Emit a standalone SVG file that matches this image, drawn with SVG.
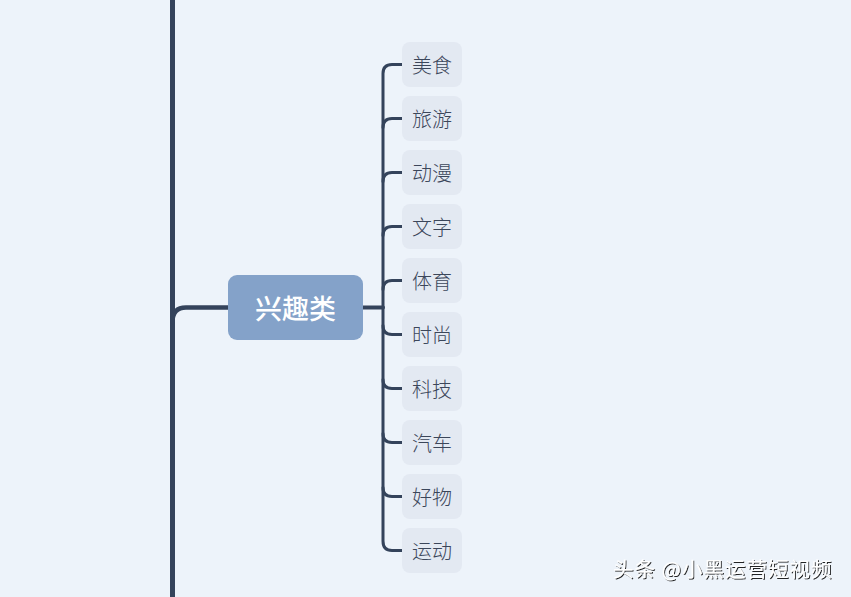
<svg xmlns="http://www.w3.org/2000/svg" width="851" height="597" viewBox="0 0 851 597">
<defs>
<style>
.conn{fill:none;stroke:#34435B;stroke-linecap:round;stroke-linejoin:round}
.child rect{fill:#E3E9F2}
.child text{font-family:"Noto Sans CJK SC","Noto Sans",sans-serif;font-size:20px;font-weight:300;fill:#3B465A;text-anchor:middle;dominant-baseline:central}
.main text{font-family:"Noto Sans CJK SC","Noto Sans",sans-serif;font-size:27px;font-weight:500;fill:#FFFFFF;text-anchor:middle;dominant-baseline:central}
</style>
<filter id="sh" x="-10%" y="-30%" width="120%" height="160%">
<feDropShadow dx="1" dy="1" stdDeviation="0.6" flood-color="#000" flood-opacity="0.85"/>
</filter>
</defs>
<rect width="851" height="597" fill="#EDF3FA"/>
<g id="connectors">
<line class="conn" x1="172.5" y1="-5" x2="172.5" y2="602" stroke-width="5"/>
<path class="conn" d="M172.5 322 Q172.5 307.5 186 307.5 L230 307.5" stroke-width="4.5"/>
<path class="conn" d="M360 307.5 L383 307.5" stroke-width="4"/>
<path class="conn" stroke-width="3" d="M402 64.5 L392 64.5 Q383 64.5 383 73.5 L383 541 Q383 550.5 392 550.5 L402 550.5"/>
<path class="conn" stroke-width="3" d="M383 127.5 Q383 118.5 392 118.5 L402 118.5"/>
<path class="conn" stroke-width="3" d="M383 181.5 Q383 172.5 392 172.5 L402 172.5"/>
<path class="conn" stroke-width="3" d="M383 235.5 Q383 226.5 392 226.5 L402 226.5"/>
<path class="conn" stroke-width="3" d="M383 289.5 Q383 280.5 392 280.5 L402 280.5"/>
<path class="conn" stroke-width="3" d="M383 325.5 Q383 334.5 392 334.5 L402 334.5"/>
<path class="conn" stroke-width="3" d="M383 379.5 Q383 388.5 392 388.5 L402 388.5"/>
<path class="conn" stroke-width="3" d="M383 433.5 Q383 442.5 392 442.5 L402 442.5"/>
<path class="conn" stroke-width="3" d="M383 487.5 Q383 496.5 392 496.5 L402 496.5"/>
</g>
<g id="node-main" class="main">
<rect x="228" y="275" width="135" height="65" rx="9" fill="#84A2C9"/>
<text x="295.5" y="307.5">兴趣类</text>
</g>
<g id="node-1" class="child"><rect x="402" y="42" width="60" height="45" rx="8"/><text x="432" y="64.5">美食</text></g>
<g id="node-2" class="child"><rect x="402" y="96" width="60" height="45" rx="8"/><text x="432" y="118.5">旅游</text></g>
<g id="node-3" class="child"><rect x="402" y="150" width="60" height="45" rx="8"/><text x="432" y="172.5">动漫</text></g>
<g id="node-4" class="child"><rect x="402" y="204" width="60" height="45" rx="8"/><text x="432" y="226.5">文字</text></g>
<g id="node-5" class="child"><rect x="402" y="258" width="60" height="45" rx="8"/><text x="432" y="280.5">体育</text></g>
<g id="node-6" class="child"><rect x="402" y="312" width="60" height="45" rx="8"/><text x="432" y="334.5">时尚</text></g>
<g id="node-7" class="child"><rect x="402" y="366" width="60" height="45" rx="8"/><text x="432" y="388.5">科技</text></g>
<g id="node-8" class="child"><rect x="402" y="420" width="60" height="45" rx="8"/><text x="432" y="442.5">汽车</text></g>
<g id="node-9" class="child"><rect x="402" y="474" width="60" height="45" rx="8"/><text x="432" y="496.5">好物</text></g>
<g id="node-10" class="child"><rect x="402" y="528" width="60" height="45" rx="8"/><text x="432" y="550.5">运动</text></g>
<text x="613" y="577" font-family="'Noto Sans CJK SC','Noto Sans',sans-serif" font-size="20.5" letter-spacing="1" fill="#FFFFFF" filter="url(#sh)">头条 @小黑运营短视频</text>
</svg>
